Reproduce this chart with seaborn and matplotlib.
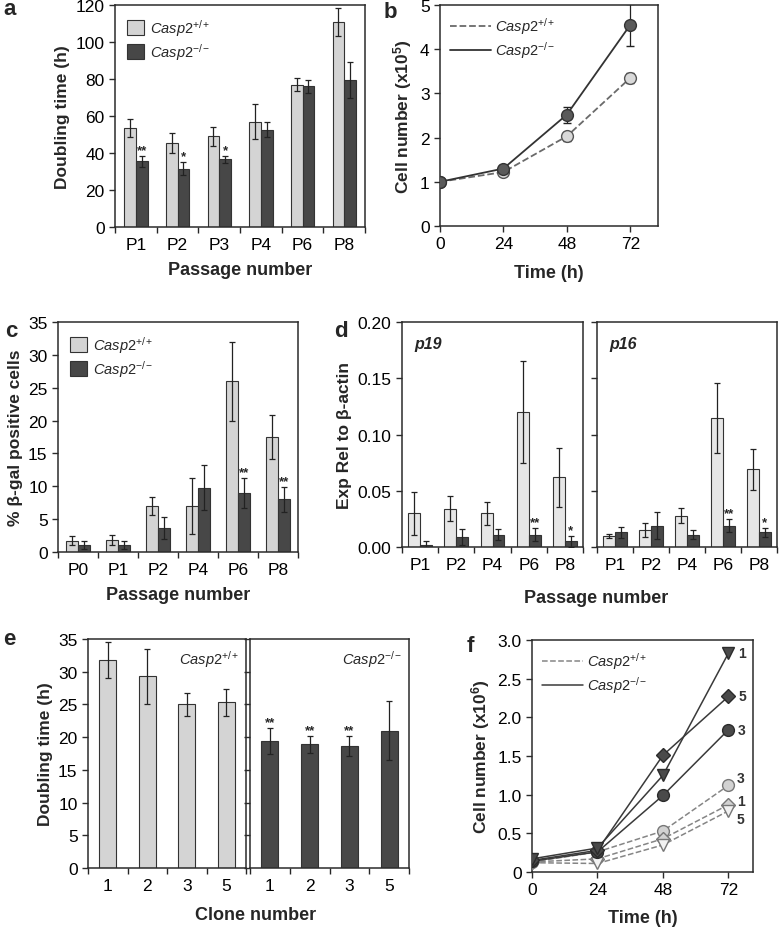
import numpy as np
import pandas as pd
import matplotlib
matplotlib.use("Agg")
import matplotlib.pyplot as plt
from matplotlib.patches import Patch
from matplotlib.lines import Line2D
import seaborn as sns

sns.set_style("ticks")
plt.rcParams['font.family'] = ['Liberation Sans', 'DejaVu Sans']
plt.rcParams['mathtext.fontset'] = 'custom'
plt.rcParams['mathtext.rm'] = 'Liberation Sans'
plt.rcParams['mathtext.it'] = 'Liberation Sans:italic'
plt.rcParams['mathtext.bf'] = 'Liberation Sans:bold'

WT = r'$\mathit{Casp2}^{+/+}$'
KO = r'$\mathit{Casp2}^{-/-}$'

LIGHT = "#d4d4d4"
LIGHT_D = "#e6e6e6"
DARK = "#474747"
EDGE = "#333333"
TICK_FS = 12.5
XLABEL_FS = 13
YLABEL_FS = 12.5
LEG_FS = 10.5

# panel a - doubling time by passage
a_pass = ["P1", "P2", "P3", "P4", "P6", "P8"]
a_wt = [53.5, 45.5, 49, 57, 77, 111]
a_wt_err = [5, 5.5, 5, 9.5, 3.5, 7.5]
a_ko = [35.5, 31.5, 36.5, 52.5, 76, 79.5]
a_ko_err = [3, 3.5, 2, 4, 3.5, 9.5]
a_stars = ["**", "*", "*", "", "", ""]

# panel b - growth curve
b_time = [0, 24, 48, 72]
b_wt = [1.0, 1.22, 2.03, 3.35]
b_wt_err = [0.05, 0.07, 0.1, 0.12]
b_ko = [1.0, 1.3, 2.52, 4.55]
b_ko_err = [0.05, 0.08, 0.18, 0.47]

# panel c - beta-gal positive cells
c_pass = ["P0", "P1", "P2", "P4", "P6", "P8"]
c_wt = [1.7, 1.8, 7.0, 7.0, 26, 17.5]
c_wt_err = [0.7, 0.8, 1.3, 4.2, 6, 3.3]
c_ko = [1.1, 1.1, 3.7, 9.8, 9.0, 8.0]
c_ko_err = [0.6, 0.6, 1.7, 3.4, 2.3, 1.9]
c_stars = ["", "", "", "", "**", "**"]

# panel d - p19 / p16 expression
d_pass = ["P1", "P2", "P4", "P6", "P8"]
p19_wt = [0.030, 0.034, 0.030, 0.120, 0.062]
p19_wt_err = [0.019, 0.011, 0.010, 0.045, 0.026]
p19_ko = [0.002, 0.009, 0.011, 0.011, 0.005]
p19_ko_err = [0.003, 0.007, 0.005, 0.006, 0.005]
p19_stars = ["", "", "", "**", "*"]
p16_wt = [0.010, 0.015, 0.028, 0.115, 0.069]
p16_wt_err = [0.002, 0.0065, 0.0065, 0.031, 0.0185]
p16_ko = [0.013, 0.019, 0.011, 0.019, 0.013]
p16_ko_err = [0.005, 0.012, 0.004, 0.006, 0.004]
p16_stars = ["", "", "", "**", "*"]

# panel e - clone doubling time
e_clones = ["1", "2", "3", "5"]
e_wt = [31.8, 29.3, 25.0, 25.3]
e_wt_err = [2.7, 4.2, 1.7, 2.1]
e_ko = [19.4, 18.9, 18.6, 21.0]
e_ko_err = [2.0, 1.3, 1.5, 4.5]
e_stars = ["**", "**", "**", ""]

# panel f - clone growth curves
f_time = [0, 24, 48, 72]
f_ko1 = [0.17, 0.31, 1.25, 2.83]
f_ko5 = [0.15, 0.28, 1.51, 2.27]
f_ko3 = [0.14, 0.26, 0.99, 1.84]
f_wt3 = [0.13, 0.26, 0.53, 1.12]
f_wt1 = [0.13, 0.17, 0.43, 0.87]
f_wt5 = [0.12, 0.11, 0.35, 0.79]

W, H = 780, 928
fig = plt.figure(figsize=(W / 100, H / 100), dpi=100)


def box(x0, y0, x1, y1):
    return fig.add_axes([x0 / W, 1 - y1 / H, (x1 - x0) / W, (y1 - y0) / H])


def style_ax(ax):
    for s in ax.spines.values():
        s.set_visible(True)
        s.set_color("#2b2b2b")
        s.set_linewidth(1.1)
    ax.tick_params(axis='both', labelsize=TICK_FS, width=1, length=4, direction='out',
                   colors="#2b2b2b", labelcolor="black")


def sep_ticks(ax, n):
    ax.set_xticks(np.arange(n + 1) - 0.5, minor=True)
    ax.tick_params(axis='x', which='major', length=0, pad=7)
    ax.tick_params(axis='x', which='minor', length=4, width=1, direction='out')
    ax.set_xlim(-0.5, n - 0.5)


def err_and_stars(ax, cont, errs, stars=None, star_size=9.5):
    xs = [p.get_x() + p.get_width() / 2 for p in cont]
    ys = [p.get_height() for p in cont]
    ax.errorbar(xs, ys, yerr=errs, fmt='none', ecolor="#222222", elinewidth=0.9,
                capsize=2.5, capthick=0.9, zorder=3)
    if stars:
        for x, y, e, s in zip(xs, ys, errs, stars):
            if s:
                ax.annotate(s, xy=(x, y + e), xytext=(0, 0), textcoords='offset points',
                            ha='center', va='bottom', fontsize=star_size, fontweight='bold')


def bar_panel(ax, cats, wt, ko, wt_err, ko_err, stars, width, light=LIGHT):
    n = len(cats)
    df = pd.DataFrame({"cat": cats * 2, "value": wt + ko,
                       "genotype": ["wt"] * n + ["ko"] * n})
    sns.barplot(data=df, x="cat", y="value", hue="genotype", hue_order=["wt", "ko"],
                palette=[light, DARK], width=width, edgecolor=EDGE, linewidth=0.8,
                errorbar=None, legend=False, ax=ax)
    err_and_stars(ax, ax.containers[0], wt_err)
    err_and_stars(ax, ax.containers[1], ko_err, stars)
    style_ax(ax)
    sep_ticks(ax, n)
    ax.set_xlabel("")
    ax.set_ylabel("")


def bar_legend(ax):
    handles = [Patch(facecolor=LIGHT, edgecolor=EDGE, linewidth=0.8),
               Patch(facecolor=DARK, edgecolor=EDGE, linewidth=0.8)]
    ax.legend(handles, [WT, KO], loc='upper left', frameon=False, fontsize=LEG_FS,
              handlelength=1.2, handleheight=1.2, labelspacing=0.25,
              handletextpad=0.4, borderaxespad=0.5, borderpad=0.3)


# ---- a ----
ax_a = box(115, 6, 365, 228)
bar_panel(ax_a, a_pass, a_wt, a_ko, a_wt_err, a_ko_err, a_stars, 0.56)
ax_a.set_ylim(0, 120)
ax_a.set_yticks(range(0, 121, 20))
ax_a.set_ylabel("Doubling time (h)", fontsize=YLABEL_FS, fontweight='bold')
ax_a.set_xlabel("Passage number", fontsize=XLABEL_FS, fontweight='bold', labelpad=7)
bar_legend(ax_a)

# ---- b ----
ax_b = box(440, 6, 658, 227)
ax_b.errorbar(b_time, b_wt, yerr=b_wt_err, fmt='none', ecolor="#222222",
              elinewidth=0.9, capsize=3, zorder=1)
ax_b.errorbar(b_time, b_ko, yerr=b_ko_err, fmt='none', ecolor="#222222",
              elinewidth=0.9, capsize=3, zorder=1)
sns.lineplot(x=b_time, y=b_wt, ax=ax_b, color="#6a6a6a", linestyle='--', linewidth=1.3,
             marker='o', markersize=8.5, markerfacecolor="#d9d9d9",
             markeredgecolor="#555555", markeredgewidth=1, zorder=3)
sns.lineplot(x=b_time, y=b_ko, ax=ax_b, color="#333333", linestyle='-', linewidth=1.3,
             marker='o', markersize=8.5, markerfacecolor="#5a5a5a",
             markeredgecolor="#333333", markeredgewidth=1, zorder=4)
style_ax(ax_b)
ax_b.set_xlim(0, 82.5)
ax_b.set_ylim(0, 5)
ax_b.set_xticks(b_time)
ax_b.set_yticks(range(0, 6))
ax_b.set_ylabel(r"Cell number (x10$^{\mathbf{5}}$)", fontsize=YLABEL_FS, fontweight='bold')
ax_b.set_xlabel("Time (h)", fontsize=XLABEL_FS, fontweight='bold', labelpad=9)
ax_b.legend([Line2D([], [], color="#6a6a6a", linestyle='--', linewidth=1.3),
             Line2D([], [], color="#333333", linestyle='-', linewidth=1.3)],
            [WT, KO], loc='upper left', frameon=False, fontsize=LEG_FS,
            handlelength=2.8, labelspacing=0.2, handletextpad=0.3, borderaxespad=0.3)

# ---- c ----
ax_c = box(58, 323, 298, 553)
bar_panel(ax_c, c_pass, c_wt, c_ko, c_wt_err, c_ko_err, c_stars, 0.58)
ax_c.set_ylim(0, 35)
ax_c.set_yticks(range(0, 36, 5))
ax_c.set_ylabel("% β-gal positive cells", fontsize=YLABEL_FS, fontweight='bold')
ax_c.set_xlabel("Passage number", fontsize=XLABEL_FS, fontweight='bold', labelpad=7)
bar_legend(ax_c)

# ---- d ----
ax_d1 = box(402, 323, 583, 548)
ax_d2 = box(597, 323, 777, 548)
bar_panel(ax_d1, d_pass, p19_wt, p19_ko, p19_wt_err, p19_ko_err, p19_stars, 0.66, LIGHT_D)
bar_panel(ax_d2, d_pass, p16_wt, p16_ko, p16_wt_err, p16_ko_err, p16_stars, 0.66, LIGHT_D)
for ax, name in [(ax_d1, "p19"), (ax_d2, "p16")]:
    ax.set_ylim(0, 0.20)
    ax.set_yticks([0, 0.05, 0.10, 0.15, 0.20])
    ax.text(0.07, 0.94, name, transform=ax.transAxes, ha='left', va='top',
            fontsize=11.5, fontweight='bold', style='italic')
ax_d1.set_yticklabels(["0.00", "0.05", "0.10", "0.15", "0.20"])
ax_d2.set_yticklabels([])
ax_d1.set_ylabel("Exp Rel to β-actin", fontsize=YLABEL_FS, fontweight='bold')
fig.text(596 / W, 1 - 603 / H, "Passage number", ha='center', va='baseline',
         fontsize=XLABEL_FS, fontweight='bold')

# ---- e ----
ax_e1 = box(88, 640, 246, 869)
ax_e2 = box(250, 640, 409, 869)
for ax, vals, errs, col, stars, lab in [(ax_e1, e_wt, e_wt_err, LIGHT, None, WT),
                                         (ax_e2, e_ko, e_ko_err, DARK, e_stars, KO)]:
    sns.barplot(x=e_clones, y=vals, color=col, width=0.43, edgecolor=EDGE,
                linewidth=0.8, errorbar=None, ax=ax)
    err_and_stars(ax, ax.containers[0], errs, stars)
    style_ax(ax)
    sep_ticks(ax, len(e_clones))
    ax.set_ylim(0, 35)
    ax.set_yticks(range(0, 36, 5))
    ax.text(0.96, 0.96, lab, transform=ax.transAxes, ha='right', va='top', fontsize=LEG_FS)
ax_e2.set_yticklabels([])
ax_e1.set_ylabel("Doubling time (h)", fontsize=YLABEL_FS, fontweight='bold')
fig.text(256 / W, 1 - 920 / H, "Clone number", ha='center', va='baseline',
         fontsize=XLABEL_FS, fontweight='bold')

# ---- f ----
ax_f = box(532, 641, 753, 873)
f_series = [
    (f_wt3, 'o', "#d2d2d2", "#777777", '--', "3", (6, 5)),
    (f_wt1, 'D', "#d2d2d2", "#777777", '--', "1", (6, 3)),
    (f_wt5, 'v', "#f2f2f2", "#777777", '--', "5", (6, -6)),
    (f_ko3, 'o', "#4a4a4a", "#2b2b2b", '-', "3", (7, 0)),
    (f_ko5, 'D', "#4a4a4a", "#2b2b2b", '-', "5", (7, 0)),
    (f_ko1, 'v', "#4a4a4a", "#2b2b2b", '-', "1", (7, 0)),
]
for vals, mk, fc, ec, ls, lab, off in f_series:
    lc = "#858585" if ls == '--' else "#3a3a3a"
    sns.lineplot(x=f_time, y=vals, ax=ax_f, color=lc, linestyle=ls, linewidth=1.1,
                 marker=mk, markersize=8.5 if mk != 'D' else 7.5, markerfacecolor=fc,
                 markeredgecolor=ec, markeredgewidth=1, zorder=3 if ls == '--' else 4)
    ax_f.annotate(lab, xy=(f_time[-1], vals[-1]), xytext=off, textcoords='offset points',
                  ha='left', va='center', fontsize=10, fontweight='bold', color="#333333")
style_ax(ax_f)
ax_f.set_xlim(0, 81)
ax_f.set_ylim(0, 3.0)
ax_f.set_xticks(f_time)
ax_f.set_yticks([0, 0.5, 1.0, 1.5, 2.0, 2.5, 3.0])
ax_f.set_yticklabels(["0", "0.5", "1.0", "1.5", "2.0", "2.5", "3.0"])
ax_f.set_ylabel(r"Cell number (x10$^{\mathbf{6}}$)", fontsize=YLABEL_FS, fontweight='bold')
ax_f.set_xlabel("Time (h)", fontsize=XLABEL_FS, fontweight='bold', labelpad=8)
ax_f.legend([Line2D([], [], color="#858585", linestyle='--', linewidth=1.1),
             Line2D([], [], color="#3a3a3a", linestyle='-', linewidth=1.1)],
            [WT, KO], loc='upper left', frameon=False, fontsize=LEG_FS,
            handlelength=2.8, labelspacing=0.2, handletextpad=0.3, borderaxespad=0.3)

# panel letters
for letter, x, y in [("a", 3, 15), ("b", 384, 18), ("c", 5, 337),
                     ("d", 334, 337), ("e", 3, 645), ("f", 467, 652)]:
    fig.text(x / W, 1 - y / H, letter, ha='left', va='baseline',
             fontsize=16, fontweight='bold')

fig.savefig("out.png", dpi=100)
